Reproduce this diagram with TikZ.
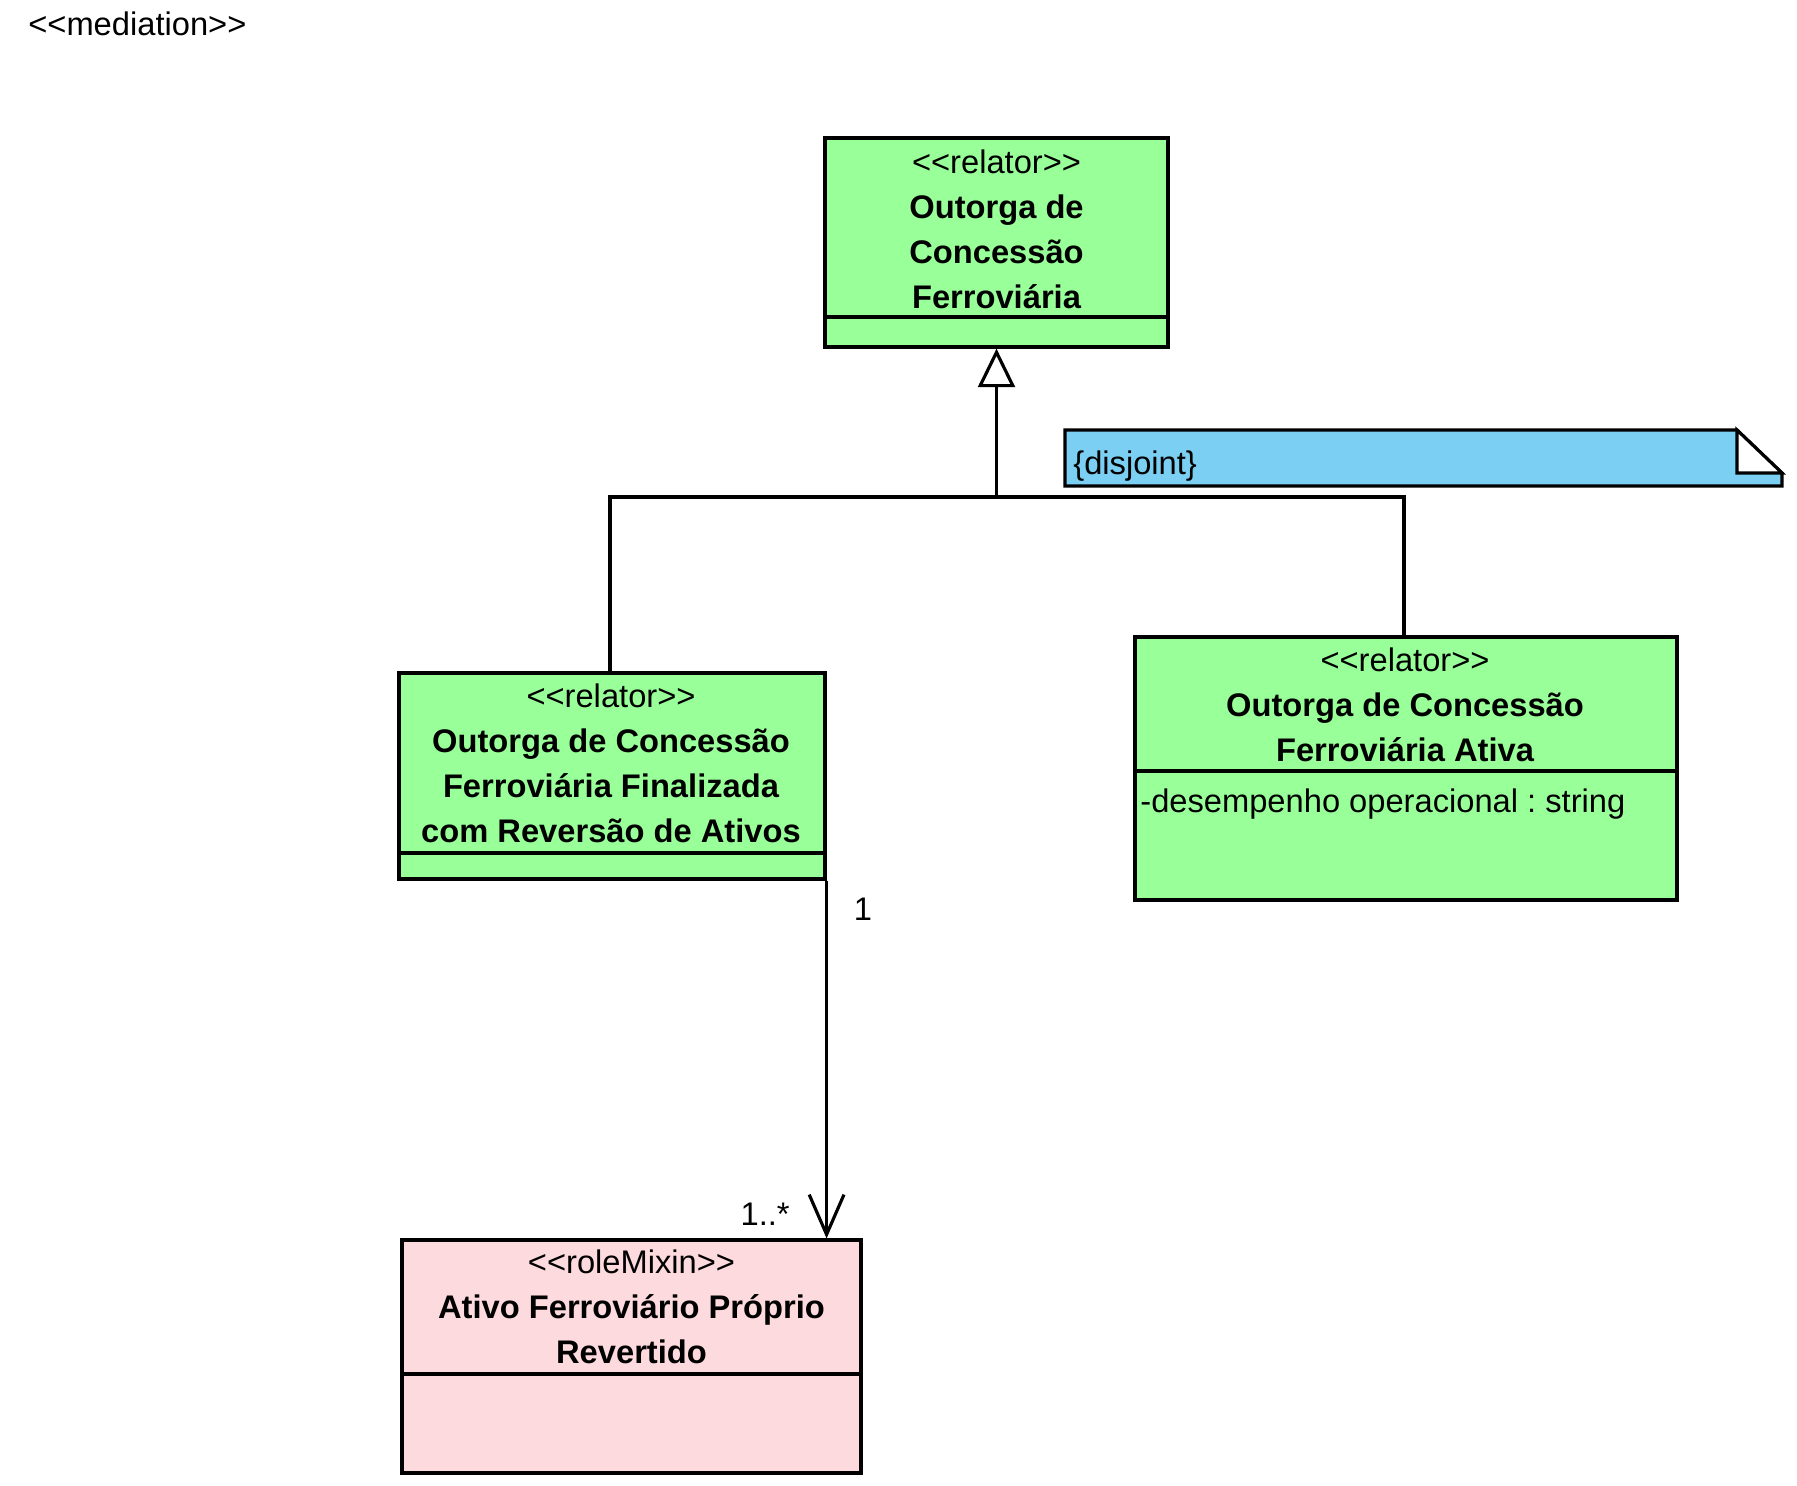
\documentclass[tikz,border=0pt]{standalone}
\usepackage{fontspec}
\setmainfont{Liberation Sans}[Ligatures=TeXOff]
\usetikzlibrary{arrows.meta,fit}
\definecolor{relgreen}{RGB}{153,255,153}
\definecolor{rolepink}{RGB}{253,218,222}
\definecolor{noteblue}{RGB}{122,207,243}
\frenchspacing
\begin{document}
\begin{tikzpicture}[x=0.02cm,y=-0.02cm,
  font=\fontsize{18.6}{25.5}\selectfont,
  box/.style={draw, line width=1.8pt, inner sep=0pt},
  ln/.style={line width=1.8pt},
  txt/.style={anchor=base, inner sep=0pt},
  ttl/.style={txt, font=\fontsize{18.6}{25.5}\selectfont\bfseries}]
\useasboundingbox (0,0) rectangle (1797,1485);

% stereotype label
\node[txt, anchor=base west] (med) at (28,35) {<<mediation>>};

% top class
\node[box, fill=relgreen, fit={(825,138)(1168,347)}] (top) {};
\draw[ln] (825,317) -- (1168,317);
\node[txt] (topst) at (996.5,173) {<<relator>>};
\node[ttl] (topn1) at (996.5,218) {Outorga de};
\node[ttl] (topn2) at (996.5,263) {Concessão};
\node[ttl] (topn3) at (996.5,308) {Ferroviária};

% left class
\node[box, fill=relgreen, fit={(399,673)(825,879)}] (left) {};
\draw[ln] (399,853) -- (825,853);
\node[txt] (leftst) at (611,707) {<<relator>>};
\node[ttl] (leftn1) at (611,752) {Outorga de Concessão};
\node[ttl] (leftn2) at (611,797) {Ferroviária Finalizada};
\node[ttl] (leftn3) at (611,842) {com Reversão de Ativos};

% right class
\node[box, fill=relgreen, fit={(1135,637)(1677,900)}] (right) {};
\draw[ln] (1135,771) -- (1677,771);
\node[txt] (rightst) at (1405,671) {<<relator>>};
\node[ttl] (rightn1) at (1405,716) {Outorga de Concessão};
\node[ttl] (rightn2) at (1405,761) {Ferroviária Ativa};
\node[txt, anchor=base west] (rightat) at (1140,812) {-desempenho operacional : string};

% bottom class
\node[box, fill=rolepink, fit={(402,1240)(861,1473)}] (bot) {};
\draw[ln] (402,1374) -- (861,1374);
\node[txt] (botst) at (631.5,1273) {<<roleMixin>>};
\node[ttl] (botn1) at (631.5,1318) {Ativo Ferroviário Próprio};
\node[ttl] (botn2) at (631.5,1363) {Revertido};

% note
\fill[noteblue] (1065,430) -- (1737,430) -- (1782,473) -- (1782,486) -- (1065,486) -- cycle;
\draw[ln, line join=miter] (1065,430) -- (1737,430) -- (1782,473) -- (1782,486) -- (1065,486) -- cycle;
\draw[ln, fill=white, line join=miter] (1737,430) -- (1782,473) -- (1737,473) -- cycle;
\node[txt, anchor=base west] (note) at (1073,474) {\{disjoint\}};

% generalization
\coordinate (j) at (996.5,497);
\coordinate (lx) at (610,0);
\coordinate (rx) at (1404,0);
\draw[ln, line join=miter] (left.north -| lx) -- (j -| lx) -- (j -| rx) -- (right.north -| rx);
\draw[ln, -{Triangle[length=22pt, width=21pt, fill=white, line join=miter]}] (j) -- (top.south);

% association
\draw[ln, -{Straight Barb[length=22.7pt, width=19.8pt, line join=miter]}] (left.south east) -- (left.south east |- bot.north);
\node[txt] (m1) at (863,920) {1};
\node[txt, anchor=base east] (m2) at (790,1225) {1..*};
\end{tikzpicture}
\end{document}
